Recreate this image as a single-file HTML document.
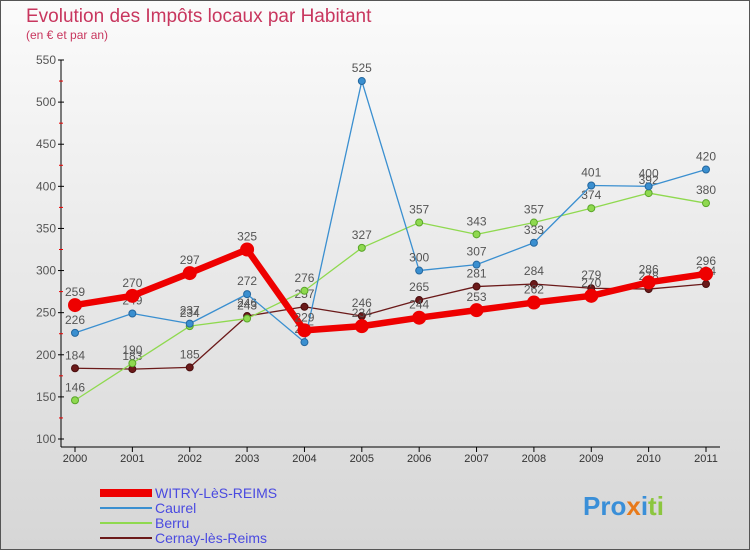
<!DOCTYPE html>
<html><head><meta charset="utf-8"><style>
body{margin:0;width:750px;height:550px;overflow:hidden;font-family:"Liberation Sans",sans-serif}
svg{display:block}
</style></head><body>
<svg id="c" width="750" height="550" xmlns="http://www.w3.org/2000/svg">
<defs><linearGradient id="bg" x1="0" y1="0" x2="0" y2="1"><stop offset="0" stop-color="#fbfbfb"/><stop offset="1" stop-color="#d6d6d6"/></linearGradient></defs>
<rect x="0.5" y="0.5" width="749" height="549" fill="url(#bg)" stroke="#555"/>
<text x="26" y="22" font-size="19" fill="#c8365e">Evolution des Impôts locaux par Habitant</text>
<text x="26" y="39" font-size="12" fill="#c8365e">(en € et par an)</text>
<g id="axes"></g><g id="series"></g><g id="legend"></g>
<text x="583" y="515" font-size="26" font-weight="bold" fill="#3a8fd8">Pro<tspan fill="#e87a1a">x</tspan><tspan fill="#3a8fd8">i</tspan><tspan fill="#8cc63f">ti</tspan></text>
</svg>
<script>
const years=["2000","2001","2002","2003","2004","2005","2006","2007","2008","2009","2010","2011"];
const yTicks=[100,150,200,250,300,350,400,450,500,550];
const witry=[259,270,297,325,229,234,244,253,262,270,286,296];
const caurel=[226,249,237,272,215,525,300,307,333,401,400,420];
const berru=[146,190,234,243,276,327,357,343,357,374,392,380];
const cernay=[184,183,185,246,257,246,265,281,284,279,278,284];
const NS="http://www.w3.org/2000/svg";
const X=i=>75+i*(706-75)/11;
const Y=v=>439-(v-100)*(439-60)/450;
function mk(tag,attrs,parent,txt){const e=document.createElementNS(NS,tag);for(const k in attrs)e.setAttribute(k,attrs[k]);if(txt!==undefined)e.textContent=txt;parent.appendChild(e);return e;}
const ax=document.getElementById('axes');
let a=mk('line',{x1:61,y1:60,x2:61,y2:447,stroke:'#000'},ax);


a=mk('line',{x1:61,y1:447,x2:720,y2:447,stroke:'#000'},ax);


yTicks.forEach(t=>{
 mk('line',{x1:58,y1:Y(t),x2:64,y2:Y(t),stroke:'#000'},ax);
 if(t<550)mk('line',{x1:59,y1:Y(t+25),x2:63,y2:Y(t+25),stroke:'#e00'},ax);
 const l=mk('text',{x:56,y:Y(t)+4,'font-size':12,fill:'#555','text-anchor':'end'},ax,t);
 
 
});
years.forEach((y,i)=>{
 mk('line',{x1:X(i),y1:447,x2:X(i),y2:452,stroke:'#000'},ax);
 const l=mk('text',{x:X(i),y:462,'font-size':11,fill:'#333','text-anchor':'middle'},ax,y);
 
 
});
const sg=document.getElementById('series');
function series(data,color,w,r,name,stroke){
 const g=mk('g',{},sg);
 
 
 mk('polyline',{points:data.map((v,i)=>X(i)+','+Y(v)).join(' '),fill:'none',stroke:color,'stroke-width':w,'stroke-linejoin':'round'},g);
 data.forEach((v,i)=>{
  const c=mk('circle',{cx:X(i),cy:Y(v),r:r,fill:color,stroke:stroke,'stroke-width':1},g);
  
  
  const t=mk('text',{x:X(i),y:Y(v)-9,'font-size':12,fill:'#555','text-anchor':'middle'},g,v);
  
  
 });
}
series(cernay,'#6b1a1a',1.3,3.5,'cernay-series','#4a0e0e');
series(berru,'#8fd94f',1.3,3.5,'berru-series','#5aa52a');
series(caurel,'#3a8fd0',1.3,3.5,'caurel-series','#25679e');
series(witry,'#ee0000',6.5,6.5,'witry-series','#ee0000');
const lg=document.getElementById('legend');
const ents=[['WITRY-LèS-REIMS','#ee0000',8],['Caurel','#3a8fd0',2],['Berru','#8fd94f',2],['Cernay-lès-Reims','#6b1a1a',2]];
ents.forEach((e,i)=>{
 const y=493+i*15;
 const g=mk('g',{},lg);
 
 
 mk('line',{x1:100,y1:y,x2:152,y2:y,stroke:e[1],'stroke-width':e[2]},g);
 mk('text',{x:155,y:y+5,'font-size':14,fill:'#4a4ae0'},g,e[0]);
});
</script>
</body></html>
